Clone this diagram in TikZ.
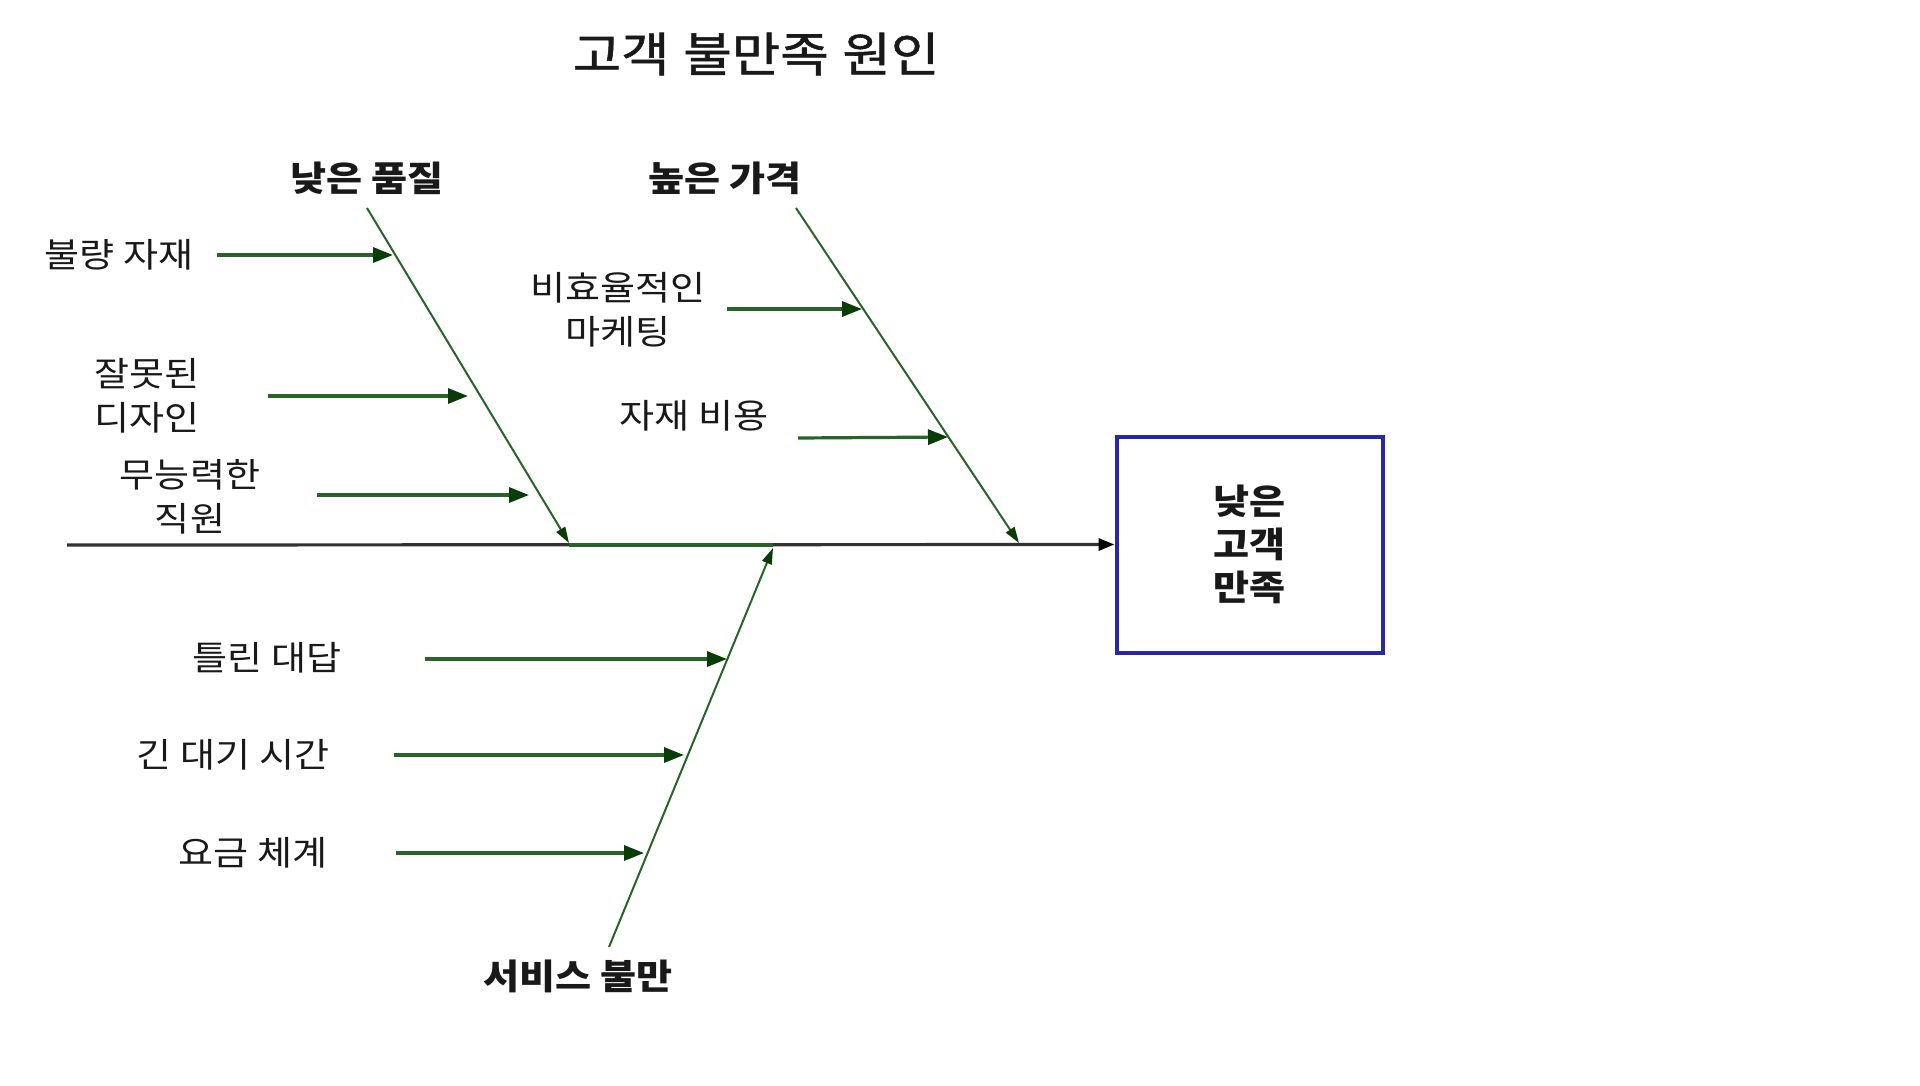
\documentclass[tikz,border=0pt]{standalone}
\usepackage{fontspec}
\setmainfont{Noto Sans CJK KR}[FakeStretch=1.12]
\newfontfamily\titlefont{Noto Sans CJK KR}[FakeStretch=1.12,FakeBold=1.2]
\usetikzlibrary{arrows.meta}
\definecolor{bone}{RGB}{40,100,40}
\definecolor{bonetip}{RGB}{10,60,10}
\definecolor{spinec}{RGB}{50,50,50}
\definecolor{boxblue}{RGB}{40,40,160}
\definecolor{txt}{RGB}{25,25,25}
\tikzset{
  lbl/.style={inner sep=0pt, text=txt, align=center, font=\fontsize{34}{44}\selectfont},
  head/.style={inner sep=0pt, text=txt, align=center, font=\fontsize{35}{44}\selectfont\bfseries},
  bonel/.style={draw=bone, line width=2pt, -{Triangle[length=16pt,width=10pt,color=bonetip]}},
  subarr/.style={draw=bone, line width=3.2pt, -{Triangle[length=20pt,width=15pt,color=bonetip]}},
  spinel/.style={draw=spinec, line width=3.2pt, -{Triangle[length=16pt,width=12pt,color=black]}},
}
\begin{document}
\begin{tikzpicture}[x=1pt,y=-1pt]
\useasboundingbox[fill=white] (0,0) rectangle (1920,1085);
% title
\node[inner sep=0pt, text=txt, font=\fontsize{47}{52}\titlefont] (title) at (756,54) {고객\hspace{2pt} 불만족\hspace{2pt} 원인};
% effect box
\node[draw=boxblue, line width=4pt, minimum width=266pt, minimum height=216pt, inner sep=0pt,
      text=txt, align=center, font=\fontsize{35}{43}\selectfont\bfseries] (effect) at (1249.5,544.5) {낮은\\고객\\만족};
% spine
\coordinate (tail) at (67,545);
\draw[spinel] (tail) -- (effect.west);
% bone heads
\node[head] (h1) at (367,178) {낮은 품질};
\node[head] (h2) at (725,178) {높은 가격};
\node[head] (h3) at (578,976) {서비스 불만};
\coordinate (b1s) at (367,208);
\coordinate (b1e) at (569,543);
\coordinate (b2s) at (796,208);
\coordinate (b2e) at (1019,543);
\coordinate (b3s) at (609,947);
\coordinate (b3e) at (773,548);
% green stretch of the spine between the bones
\coordinate (g1) at (569,545);
\coordinate (g2) at (773,545);
\draw[draw=bone, line width=3.2pt] (g1) -- (g2);
\draw[bonel] (b1s) -- (b1e);
\draw[bonel] (b2s) -- (b2e);
\draw[bonel] (b3s) -- (b3e);
% cause labels
\node[lbl] (c1) at (119,255) {불량 자재};
\node[lbl] (c2) at (147,396) {잘못된\\디자인};
\node[lbl] (c3) at (190,497) {무능력한\\직원};
\node[lbl] (c4) at (618,310) {비효율적인\\마케팅};
\node[lbl] (c5) at (694,416) {자재 비용};
\node[lbl] (c6) at (267,658) {틀린 대답};
\node[lbl] (c7) at (233,755) {긴 대기 시간};
\node[lbl] (c8) at (253,853) {요금 체계};
% arrow start/end coordinates
\coordinate (a1s) at (217,255); \coordinate (a1e) at (393,255);
\coordinate (a2s) at (268,396); \coordinate (a2e) at (468,396);
\coordinate (a3s) at (317,495); \coordinate (a3e) at (529,495);
\coordinate (a4s) at (727,309); \coordinate (a4e) at (862,309);
\coordinate (a5s) at (798,438); \coordinate (a5e) at (948,437);
\coordinate (a6s) at (425,659); \coordinate (a6e) at (727,659);
\coordinate (a7s) at (394,755); \coordinate (a7e) at (684,755);
\coordinate (a8s) at (396,853); \coordinate (a8e) at (644,853);
\foreach \i in {1,...,8}{\draw[subarr] (a\i s) -- (a\i e);}
\end{tikzpicture}
\end{document}
